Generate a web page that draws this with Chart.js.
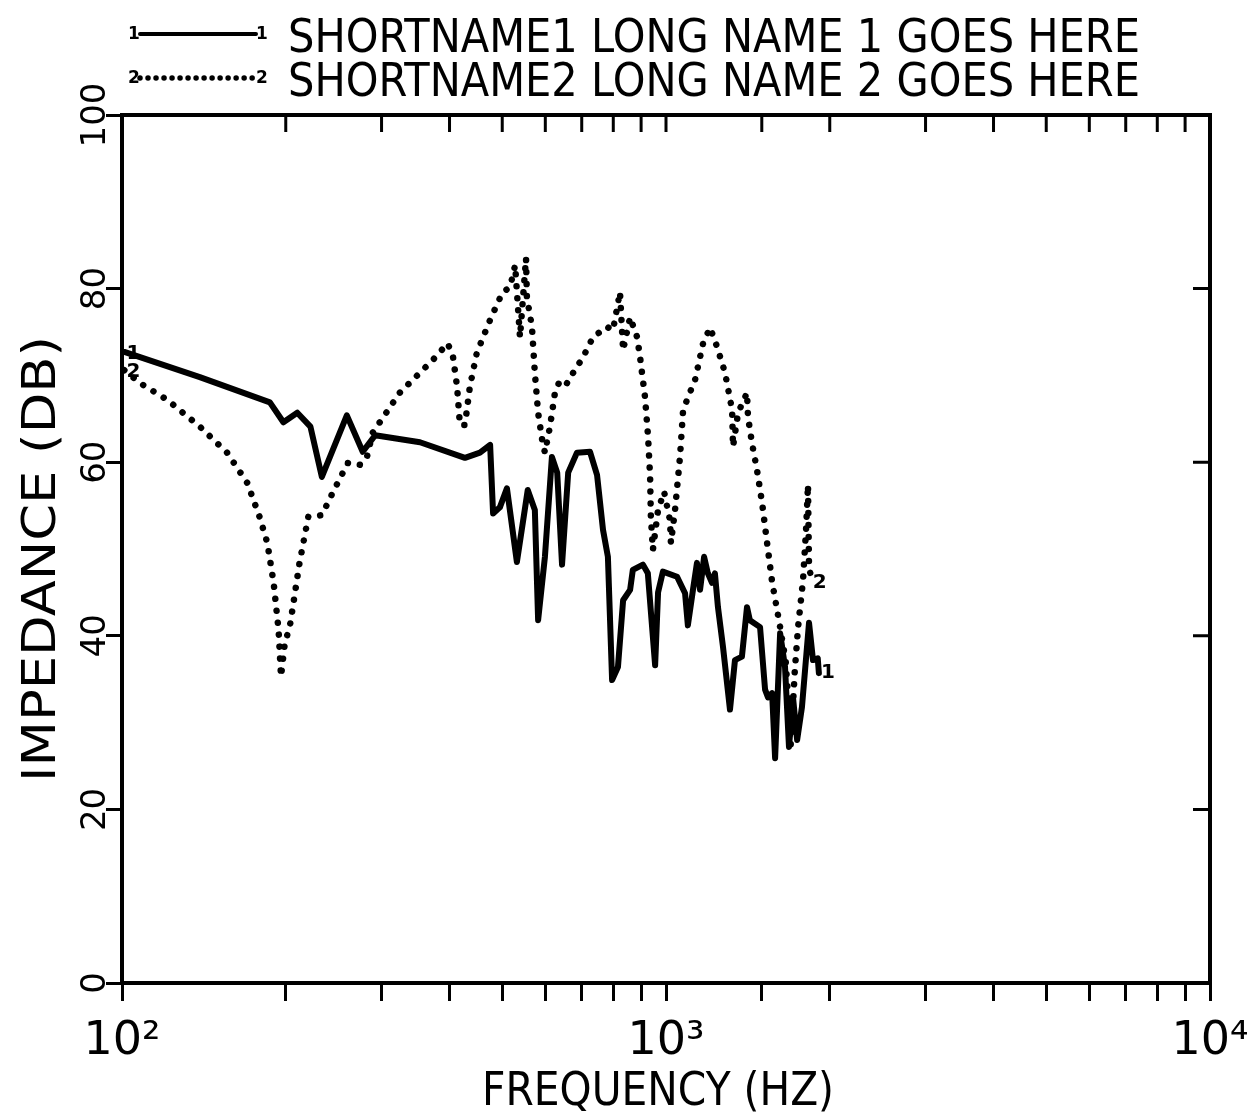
<!DOCTYPE html>
<html>
<head>
<meta charset="utf-8">
<script src="https://cdn.jsdelivr.net/npm/chart.js@4/dist/chart.umd.min.js"></script>
<style>
  html, body { margin: 0; padding: 0; background: #fff; }
  #wrap { width: 1255px; height: 1113px; position: relative; }
</style>
</head>
<body>
<div id="wrap"><canvas id="plot"></canvas></div>
<script>
// series 1 (solid)
const freq1 = [101, 139, 187, 198, 210, 222, 233, 259, 277, 292, 353, 427, 455, 475, 481, 495, 510, 532, 557, 574,
  582, 599, 617, 631, 644, 661, 686, 725, 747, 766, 782, 796, 816, 834, 859, 869, 907, 926, 955, 967,
  987, 1048, 1084, 1097, 1121, 1140, 1155, 1175, 1194, 1215, 1230, 1246, 1273, 1311, 1339, 1379, 1409, 1426, 1489, 1521,
  1540, 1567, 1587, 1621, 1655, 1683, 1712, 1742, 1778, 1832, 1863, 1901, 1910];
const imp1 = [72.7, 69.8, 66.9, 64.6, 65.7, 64.1, 58.3, 65.4, 61.2, 63.1, 62.3, 60.5, 61.1, 62.0, 54.1, 54.8, 57.0, 48.5, 56.8, 54.5,
  41.8, 49.1, 60.6, 58.8, 48.2, 58.8, 61.1, 61.2, 58.5, 52.2, 49.1, 34.9, 36.4, 44.1, 45.3, 47.6, 48.2, 47.2, 36.6, 45.0,
  47.4, 46.8, 44.9, 41.2, 45.3, 48.4, 45.3, 49.1, 47.2, 46.1, 47.2, 43.3, 38.7, 31.5, 37.2, 37.6, 43.3, 41.8, 41.0, 33.8,
  32.9, 33.4, 25.9, 40.3, 36.4, 27.2, 32.9, 28.0, 31.8, 41.5, 37.2, 37.4, 35.7];

// series 2 (dotted)
const freq2 = [101, 108, 121, 139, 156, 170, 179, 185, 190, 194, 196, 199, 204, 212, 220, 233, 244, 260, 274, 282,
  289, 324, 373, 397, 406, 413, 418, 427, 436, 449, 475, 500, 517, 528, 539, 553, 555, 567, 574, 582,
  592, 599, 612, 625, 639, 658, 675, 704, 734, 779, 799, 823, 834, 859, 885, 896, 915, 927, 935, 938,
  946, 967, 992, 1017, 1021, 1039, 1061, 1075, 1098, 1131, 1170, 1205, 1241, 1284, 1323, 1328, 1357, 1409, 1415, 1439,
  1470, 1502, 1534, 1567, 1621, 1660, 1680, 1695, 1708, 1725, 1749, 1786, 1809, 1824, 1832, 1845];
const imp2 = [70.6, 69.1, 67.2, 64.1, 61.1, 57.6, 53.7, 50.7, 46.1, 40.7, 35.3, 38.9, 41.5, 48.4, 53.7, 53.9, 56.5, 59.9, 59.7, 60.6,
  63.4, 68.0, 71.8, 73.7, 72.1, 68.7, 64.3, 64.3, 68.7, 72.6, 76.4, 79.5, 80.2, 82.7, 74.4, 83.5, 79.0, 75.6, 70.3, 65.7,
  62.6, 61.1, 64.1, 68.0, 69.5, 69.1, 70.3, 72.1, 74.4, 75.6, 75.2, 79.6, 72.9, 76.7, 74.4, 72.1, 67.5, 62.9, 58.3, 53.7,
  49.9, 54.5, 56.6, 53.3, 50.7, 54.5, 60.6, 66.0, 67.5, 69.5, 73.7, 75.5, 73.3, 70.3, 66.0, 61.8, 65.7, 68.0, 65.2, 62.2,
  59.1, 55.3, 50.7, 46.2, 41.0, 37.0, 32.0, 27.4, 31.0, 36.0, 41.0, 46.4, 52.2, 57.4, 47.9, 47.0];

const seriesNames = ['SHORTNAME1 LONG NAME 1 GOES HERE', 'SHORTNAME2 LONG NAME 2 GOES HERE'];
const seriesTags = ['1', '2'];
const xTitle = 'FREQUENCY (HZ)';
const yTitle = 'IMPEDANCE (DB)';
const yTicks = [0, 20, 40, 60, 80, 100];
const supers = { 2: '\u00b2', 3: '\u00b3', 4: '\u2074' };

const FONT = '"DejaVu Sans", "Liberation Sans", sans-serif';

function toPoints(xs, ys) {
  return xs.map((f, i) => ({ x: f, y: ys[i] }));
}

// draw text squeezed/stretched to a given width (plotter lettering is narrow)
function fitText(ctx, text, x, y, width) {
  const w = ctx.measureText(text).width;
  ctx.save();
  ctx.translate(x, y);
  ctx.scale(width / w, 1);
  ctx.fillText(text, 0, 0);
  ctx.restore();
}

const decorPlugin = {
  id: 'decor',
  afterDraw(chart) {
    const { ctx, chartArea: a, scales } = chart;
    const xs = scales.x, ys = scales.y;
    ctx.save();
    ctx.strokeStyle = '#000';
    ctx.fillStyle = '#000';

    // frame top and right
    ctx.lineWidth = 4;
    ctx.beginPath();
    ctx.moveTo(a.left - 2, a.top);
    ctx.lineTo(a.right, a.top);
    ctx.lineTo(a.right, a.bottom + 2);
    ctx.stroke();

    // inward ticks on top and right
    ctx.lineWidth = 3;
    ctx.beginPath();
    xs.ticks.forEach(t => {
      const px = xs.getPixelForValue(t.value);
      ctx.moveTo(px, a.top);
      ctx.lineTo(px, a.top + 17);
    });
    yTicks.forEach(v => {
      const py = ys.getPixelForValue(v);
      ctx.moveTo(a.right, py);
      ctx.lineTo(a.right - 17, py);
    });
    ctx.stroke();

    // rotated y tick labels
    ctx.font = '34px ' + FONT;
    ctx.textAlign = 'center';
    ctx.textBaseline = 'middle';
    yTicks.forEach(v => {
      const py = ys.getPixelForValue(v);
      ctx.save();
      ctx.translate(96, py);
      ctx.rotate(-Math.PI / 2);
      ctx.fillText(String(v), 0, 0);
      ctx.restore();
    });

    // axis titles
    ctx.font = '46px ' + FONT;
    ctx.textAlign = 'left';
    ctx.textBaseline = 'alphabetic';
    ctx.save();
    ctx.translate(55, 782);
    ctx.rotate(-Math.PI / 2);
    fitText(ctx, yTitle, 0, 0, 446);
    ctx.restore();
    fitText(ctx, xTitle, 482, 1105, 352);

    // legend
    chart.data.datasets.forEach((ds, i) => {
      const ly = 34 + i * 44;
      ctx.save();
      ctx.lineWidth = ds.borderWidth - (i === 0 ? 2 : 1);
      ctx.lineCap = 'round';
      ctx.setLineDash(ds.borderDash ? [0.01, 8] : []);
      ctx.beginPath();
      ctx.moveTo(140, ly);
      ctx.lineTo(256, ly);
      ctx.stroke();
      ctx.restore();
      ctx.font = 'bold 17px ' + FONT;
      ctx.textAlign = 'center';
      ctx.textBaseline = 'middle';
      ctx.fillText(seriesTags[i], 134, ly + 1);
      ctx.fillText(seriesTags[i], 262, ly + 1);
      ctx.font = '46px ' + FONT;
      ctx.textAlign = 'left';
      ctx.textBaseline = 'alphabetic';
      fitText(ctx, seriesNames[i], 288, ly + 18, 852);
    });

    // curve tags at start and end of each curve
    ctx.font = 'bold 20px ' + FONT;
    ctx.textAlign = 'center';
    ctx.textBaseline = 'middle';
    chart.data.datasets.forEach((ds, i) => {
      const pts = chart.getDatasetMeta(i).data;
      const first = pts[0], last = pts[pts.length - 1];
      ctx.fillText(seriesTags[i], first.x + 9, first.y + 2);
      ctx.fillText(seriesTags[i], last.x + 9, last.y + (i === 1 ? 8 : 0));
    });
    ctx.restore();
  }
};

new Chart(document.getElementById('plot'), {
  type: 'line',
  data: {
    datasets: [
      {
        label: seriesNames[0],
        data: toPoints(freq1, imp1),
        borderColor: '#000',
        borderWidth: 6,
        borderJoinStyle: 'round',
        borderCapStyle: 'round',
        pointRadius: 0,
        tension: 0,
        fill: false
      },
      {
        label: seriesNames[1],
        data: toPoints(freq2, imp2),
        borderColor: '#000',
        borderWidth: 6.5,
        borderDash: [0.01, 12],
        borderCapStyle: 'round',
        pointRadius: 0,
        tension: 0,
        fill: false
      }
    ]
  },
  options: {
    responsive: true,
    maintainAspectRatio: false,
    animation: false,
    layout: { padding: { top: 115, right: 45, left: 0, bottom: 0 } },
    scales: {
      x: {
        type: 'logarithmic',
        min: 100,
        max: 10000,
        afterFit: s => {
          s.height = 130;
          s.paddingLeft = 0;
          s.paddingRight = 0;
        },
        grid: { drawOnChartArea: false, drawTicks: true, tickLength: 18, tickWidth: 3, tickColor: '#000' },
        border: { display: true, width: 4, color: '#000' },
        ticks: {
          autoSkip: false,
          maxRotation: 0,
          minRotation: 0,
          padding: 13,
          color: '#000',
          font: { family: FONT, size: 46 },
          callback: v => {
            const e = Math.log10(v);
            return Math.abs(e - Math.round(e)) < 1e-9 ? '10' + supers[Math.round(e)] : '';
          }
        }
      },
      y: {
        type: 'linear',
        min: 0,
        max: 100,
        afterFit: s => { s.width = 122; },
        grid: { drawOnChartArea: false, drawTicks: true, tickLength: 16, tickWidth: 3, tickColor: '#000' },
        border: { display: true, width: 4, color: '#000' },
        ticks: { stepSize: 20, callback: () => '' }
      }
    },
    plugins: {
      legend: { display: false },
      tooltip: { enabled: false }
    }
  },
  plugins: [decorPlugin]
});
</script>
</body>
</html>
